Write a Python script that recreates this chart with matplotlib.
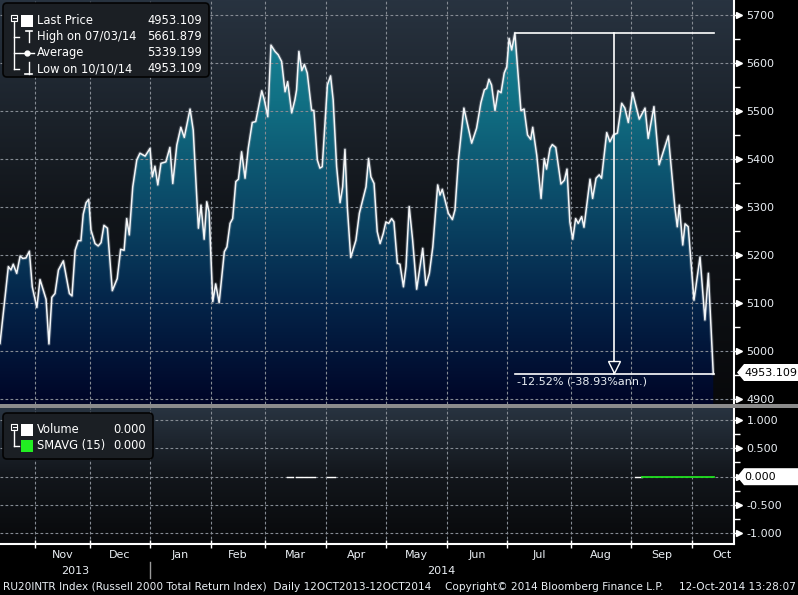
import numpy as np
import matplotlib.pyplot as plt
from matplotlib import transforms
from matplotlib.colors import LinearSegmentedColormap
from matplotlib.patches import Polygon, FancyBboxPatch, Rectangle
from matplotlib.lines import Line2D

W, H = 798, 595

# trading-day index (0 = 14 Oct 2013) and index level
day = [2.8, 5.7, 6.6, 7.4, 8.6, 9.8, 10.7, 11.8, 13.0, 14.0,
       15.6, 16.7, 18.8, 19.8, 20.8, 21.9, 23.1, 24.8, 26.9, 27.8,
       28.9, 30.0, 30.9, 31.7, 32.7, 33.6, 34.4, 35.8, 36.9, 37.9,
       38.9, 40.1, 41.8, 43.5, 44.7, 45.9, 46.8, 47.7, 48.9, 50.3, 51.4,
       53.2, 54.9, 55.7, 56.6, 57.6, 58.7, 60.4, 61.8, 62.8, 64.2,
       65.6, 66.8, 68.8, 69.9, 71.7, 72.6, 73.7, 74.6, 75.4, 76.7,
       77.7, 78.9, 80.7, 81.6, 82.7, 83.6, 84.7, 85.6, 86.7, 87.9,
       89.0, 90.4, 91.6, 93.7, 94.6, 95.8, 96.9, 98.3, 99.4, 100.6, 101.8, 102.7,
       104.1, 105.2, 105.8, 106.6, 107.6, 108.5, 109.5, 111.0, 111.8, 113.0,
       113.9, 114.7, 116.5, 117.6, 118.5, 119.7, 120.9, 121.8, 122.6, 123.4,
       124.6, 126.4, 127.6, 129.0, 129.9, 130.8, 131.6, 132.7, 133.8, 134.8,
       135.9, 136.8, 137.8, 138.8, 139.6, 140.8, 141.7, 142.9, 143.8, 144.9,
       146.1, 147.5, 149.6, 150.7, 151.9, 153.1,
       154.8, 155.6, 156.4, 158.5, 159.9, 160.8, 162.0, 163.9, 166.6, 168.3,
       169.8, 171.0, 171.8, 172.6, 173.5, 174.7, 175.8, 176.8, 177.9, 178.8,
       179.6, 180.5, 181.6, 182.6, 183.7, 184.8, 186.0, 187.1, 187.8, 189.2,
       190.7, 191.8, 192.6, 193.8, 194.6, 195.8, 197.6, 198.8, 199.7, 200.7,
       201.7, 202.7, 203.6, 204.8,
       205.6, 206.5, 207.7, 208.6, 209.8, 210.9, 211.7, 213.5, 214.6, 215.8,
       217.2, 218.7, 219.8, 221.0, 222.5, 224.8, 226.8, 227.9, 229.9, 231.7,
       234.9, 237.2, 238.0, 238.7, 239.9, 240.7, 241.8, 243.8, 245.9, 247.6,
       248.8, 250.5]
price = [5016, 5176, 5169, 5181, 5162, 5198, 5193, 5194, 5208, 5134,
         5091, 5149, 5108, 5015, 5112, 5120, 5169, 5188, 5120, 5115,
         5210, 5230, 5230, 5285, 5309, 5316, 5252, 5224, 5219, 5226,
         5262, 5256, 5126, 5151, 5212, 5210, 5276, 5242, 5342, 5398, 5412,
         5406, 5422, 5363, 5385, 5346, 5391, 5394, 5424, 5349, 5429,
         5466, 5445, 5504, 5460, 5256, 5304, 5233, 5311, 5290, 5103,
         5140, 5101, 5207, 5217, 5266, 5276, 5353, 5358, 5415, 5360,
         5422, 5476, 5478, 5542, 5523, 5488, 5637, 5624, 5617, 5603, 5540, 5561,
         5496, 5523, 5544, 5624, 5584, 5597, 5579, 5502, 5501, 5398,
         5381, 5384, 5554, 5573, 5523, 5384, 5309, 5342, 5420, 5301,
         5195, 5231, 5287, 5321, 5342, 5401, 5363, 5349, 5249, 5224,
         5245, 5269, 5266, 5276, 5269, 5183, 5181, 5134, 5176, 5301,
         5231, 5129, 5214, 5137, 5162, 5217,
         5346, 5325, 5337, 5287, 5274, 5294, 5398, 5506, 5433, 5464,
         5517, 5544, 5547, 5566, 5554, 5501, 5542, 5538, 5579, 5592,
         5651, 5627, 5661.879, 5585, 5501, 5504, 5450, 5441, 5466, 5408,
         5318, 5401, 5379, 5422, 5430, 5424, 5348, 5356, 5379, 5269,
         5233, 5276, 5266, 5280,
         5258, 5301, 5358, 5318, 5360, 5367, 5360, 5455, 5436, 5450,
         5454, 5516, 5506, 5476, 5538, 5483, 5506, 5443, 5509, 5388,
         5448, 5297, 5259, 5304, 5221, 5265, 5259, 5106, 5196, 5065,
         5162, 4953.109]

legend_rows = [('Last Price', '4953.109'), ('High on 07/03/14', '5661.879'),
               ('Average', '5339.199'), ('Low on 10/10/14', '4953.109')]
change_text = '-12.52% (-38.93%ann.)'

month_days = [15, 34, 55, 76, 95, 116, 137, 158, 179, 201, 222, 243]
month_names = ['Nov', 'Dec', 'Jan', 'Feb', 'Mar', 'Apr', 'May', 'Jun',
               'Jul', 'Aug', 'Sep', 'Oct']
price_ticks = [4900, 5000, 5100, 5200, 5300, 5400, 5500, 5600, 5700]
vol_ticks = [-1.0, -0.5, 0.0, 0.5, 1.0]
vol_segments = [(102.4, 104.7), (105.6, 112.2), (116.3, 119.1), (223.3, 225.6)]
smavg_span = (225.6, 250.7)

x0, x1 = 2.8, 257.7
y0, y1 = 4890, 5731

fig = plt.figure(figsize=(W / 100, H / 100), dpi=100, facecolor='black')
PX = transforms.Affine2D().scale(1 / W, -1 / H).translate(0, 1) + fig.transFigure
FONT = 'DejaVu Sans'
TXT = '#e9eef3'
LEG = 8.3
GRID = dict(color='#858b93', linestyle=(0, (2.5, 2)), linewidth=0.8)

grad = np.linspace(0, 1, 256).reshape(-1, 1)
bg_cmap = LinearSegmentedColormap.from_list('bg', ['#08090b', '#12161b', '#283340'])
fill_cmap = LinearSegmentedColormap.from_list(
    'fill', ['#000527', '#042449', '#0b4a68', '#117084', '#1c8ea0'])

# ---------- price panel ----------
ax = fig.add_axes([0, 1 - 404 / H, 734 / W, 404 / H])
ax.imshow(grad, extent=[x0, x1, y0, y1], origin='lower', aspect='auto',
          cmap=bg_cmap, zorder=0)
poly = ax.fill_between(day, price, y0 - 50, color='none', lw=0)
img = ax.imshow(grad, extent=[x0, x1, y0, y1], origin='lower', aspect='auto',
                cmap=fill_cmap, zorder=1)
img.set_clip_path(poly.get_paths()[0], ax.transData)
ax.plot(day, price, color='#9aa3ad', lw=2.6, alpha=0.35, zorder=3)
ax.plot(day, price, color='#f4f6f8', lw=1.1, zorder=3)

# high / low change marker
i_hi = price.index(max(price))
hi_day, hi_val = day[i_hi], price[i_hi]
end = day[-1] + 0.3
mid = (hi_day + end) / 2
last = price[-1]
ax.plot([hi_day, end], [hi_val, hi_val], color='white', lw=1.2, zorder=4)
ax.plot([hi_day, end], [last, last], color='white', lw=1.2, zorder=4)
ax.plot([mid, mid], [hi_val, last], color='white', lw=1.2, zorder=4)
ax.plot(mid, last, marker='v', ms=8.5, mfc='#03102f', mec='white', mew=1,
        zorder=5, transform=transforms.offset_copy(ax.transData, fig, y=6.5, units='dots'))
ax.text(hi_day + 0.6, last, change_text, color=TXT, fontsize=8, family=FONT,
        va='top', ha='left', zorder=5,
        transform=transforms.offset_copy(ax.transData, fig, y=-3, units='dots'))

ax.set_xlim(x0, x1)
ax.set_ylim(y0, y1)
ax.set_xticks(month_days)
ax.set_yticks(price_ticks)
ax.set_yticks([t + 50 for t in price_ticks[:-1]], minor=True)
ax.grid(True, **GRID)
ax.set_axisbelow(False)
ax.yaxis.tick_right()
ax.tick_params(axis='x', length=0, labelbottom=False)
ax.tick_params(axis='y', which='major', direction='out', length=5, width=1,
               color='white', labelcolor=TXT, labelsize=8, pad=4)
ax.tick_params(axis='y', which='minor', direction='out', length=4, width=1,
               color='white')
for lbl in ax.get_yticklabels():
    lbl.set_family(FONT)
for s in ['top', 'left', 'bottom']:
    ax.spines[s].set_visible(False)
ax.spines['right'].set_color('white')
ax.spines['right'].set_linewidth(1.5)
ax.plot([1.0] * len(price_ticks), price_ticks, ls='none', marker='>', ms=5,
        color='white', clip_on=False, zorder=6,
        transform=transforms.offset_copy(
            transforms.blended_transform_factory(ax.transAxes, ax.transData),
            fig, x=5, units='dots'))

# ---------- volume panel ----------
ax2 = fig.add_axes([0, 1 - 544 / H, 734 / W, 136 / H])
v0, v1 = -1.19, 1.21
ax2.imshow(grad, extent=[x0, x1, v0, v1], origin='lower', aspect='auto',
           cmap=bg_cmap, zorder=0)
for a, b in vol_segments:
    ax2.plot([a, b], [0, 0], color='white', lw=1, zorder=3)
ax2.plot(smavg_span, [0, 0], color='#1fe01f', lw=1.3, zorder=4)
ax2.set_xlim(x0, x1)
ax2.set_ylim(v0, v1)
ax2.set_xticks(month_days)
ax2.set_yticks(vol_ticks)
ax2.set_yticklabels(['-1.000', '-0.500', '', '0.500', '1.000'])
ax2.set_yticks([-0.75, -0.25, 0.25, 0.75], minor=True)
ax2.grid(True, **GRID)
ax2.set_axisbelow(False)
ax2.yaxis.tick_right()
ax2.tick_params(axis='x', direction='inout', length=6, width=1, color='white',
                labelbottom=False)
ax2.tick_params(axis='y', which='major', direction='out', length=5, width=1,
                color='white', labelcolor=TXT, labelsize=8, pad=4)
ax2.tick_params(axis='y', which='minor', direction='out', length=4, width=1,
                color='white')
for lbl in ax2.get_yticklabels():
    lbl.set_family(FONT)
for s in ['top', 'left']:
    ax2.spines[s].set_visible(False)
for s in ['right', 'bottom']:
    ax2.spines[s].set_color('white')
    ax2.spines[s].set_linewidth(1.5)
ax2.plot([1.0] * len(vol_ticks), vol_ticks, ls='none', marker='>', ms=5,
         color='white', clip_on=False, zorder=6,
         transform=transforms.offset_copy(
             transforms.blended_transform_factory(ax2.transAxes, ax2.transData),
             fig, x=5, units='dots'))

# month labels, centred in each month
xfig = transforms.blended_transform_factory(ax2.transData, PX)
edges = month_days + [month_days[-1] + 21]
for k, name in enumerate(month_names):
    fig.text((edges[k] + edges[k + 1]) / 2, 555, name, transform=xfig,
             color=TXT, fontsize=8, family=FONT, ha='center', va='center')
fig.text(28.9, 571, '2013', transform=xfig, color=TXT, fontsize=8,
         family=FONT, ha='center', va='center')
fig.text(156, 571, '2014', transform=xfig, color=TXT, fontsize=8,
         family=FONT, ha='center', va='center')
fig.add_artist(Line2D([month_days[2]] * 2, [562, 578], transform=xfig,
                      color='#9a9a9a', lw=1))

# separator between panels
fig.add_artist(Rectangle((0, 404), W, 4, transform=PX, color='#8c8c8c', lw=0))

# ---------- legends ----------
def legend_box(x, y, w, h):
    fig.add_artist(FancyBboxPatch((x, y), w, h, transform=PX,
                                  boxstyle='round,pad=0,rounding_size=4',
                                  fc='#1b1f24', ec='#030303', lw=1.2, zorder=10))

def line(xs, ys, color='white', lw=1):
    fig.add_artist(Line2D(xs, ys, transform=PX, color=color, lw=lw, zorder=11))

def collapse_icon(x, y):
    fig.add_artist(Rectangle((x - 3, y - 3), 6, 6, transform=PX, fc='none',
                             ec='white', lw=0.8, zorder=11))
    line([x - 1.5, x + 1.5], [y, y], lw=0.8)

def square(x, y, color):
    fig.add_artist(Rectangle((x, y), 12, 12, transform=PX, fc=color, ec='none',
                             zorder=11))

legend_box(3, 3, 206, 74)
rows_y = [20.5, 36.5, 52.5, 68.5]
collapse_icon(14, 18)
line([14, 14], [21, rows_y[-1]])
for ry in rows_y[1:]:
    line([14, 19], [ry, ry])
square(21, 14.5, 'white')
line([26, 32], [30.5, 30.5], lw=1.2)
line([29, 29], [30.5, 41.5])
line([20, 34], [52.5, 52.5])
fig.add_artist(Line2D([27], [52.5], transform=PX, marker='o', ms=3.5,
                      color='white', zorder=11))
line([28.5, 28.5], [62, 73.5])
line([25, 32], [73.5, 73.5], lw=1.2)
for ry, (lab, val) in zip(rows_y, legend_rows):
    fig.text(37, ry, lab, transform=PX, color='white', fontsize=LEG,
             family=FONT, va='center', ha='left', zorder=12)
    fig.text(202, ry, val, transform=PX, color='white', fontsize=LEG,
             family=FONT, va='center', ha='right', zorder=12)

legend_box(3, 413, 150, 46)
collapse_icon(14, 427)
line([14, 14], [430, 445.5])
line([14, 19], [445.5, 445.5])
square(21, 423.5, 'white')
square(21, 439.5, '#22ee22')
for ry, lab in zip([429.5, 445.5], ['Volume', 'SMAVG (15)']):
    fig.text(37, ry, lab, transform=PX, color='white', fontsize=LEG,
             family=FONT, va='center', ha='left', zorder=12)
    fig.text(146, ry, '0.000', transform=PX, color='white', fontsize=LEG,
             family=FONT, va='center', ha='right', zorder=12)

# ---------- value callouts on the right axis ----------
def callout(yc, text):
    fig.add_artist(Polygon([(737, yc), (744, yc - 8.5), (798, yc - 8.5),
                            (798, yc + 8.5), (744, yc + 8.5)], closed=True,
                           transform=PX, fc='white', ec='none', zorder=12))
    fig.text(744, yc, text, transform=PX, color='black', fontsize=8,
             family=FONT, va='center', ha='left', zorder=13)

callout(372.5, '%.3f' % last)
callout(476.7, '0.000')

# ---------- footer ----------
fig.text(3, 587, 'RU20INTR Index (Russell 2000 Total Return Index)  Daily 12OCT2013-12OCT2014',
         transform=PX, color=TXT, fontsize=7.6, family=FONT, va='center', ha='left')
fig.text(445, 587, 'Copyright\u00a9 2014 Bloomberg Finance L.P.', transform=PX,
         color=TXT, fontsize=7.6, family=FONT, va='center', ha='left')
fig.text(796, 587, '12-Oct-2014 13:28:07', transform=PX, color=TXT,
         fontsize=7.6, family=FONT, va='center', ha='right')

fig.savefig('out.png', dpi=100, facecolor='black')
